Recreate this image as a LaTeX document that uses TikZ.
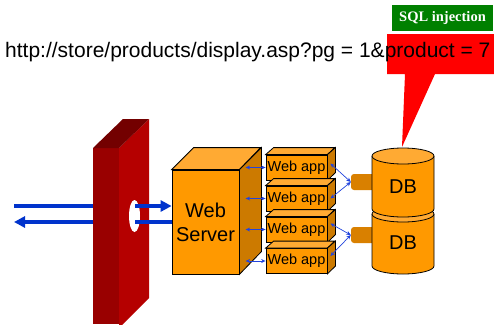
\documentclass[tikz,border=0pt]{standalone}
\usepackage{fontspec}
\setmainfont{Liberation Sans}
\newfontfamily\serifx{Liberation Serif}
\usetikzlibrary{arrows.meta,calc}
\definecolor{fwfront}{HTML}{990000}
\definecolor{fwside}{HTML}{B50000}
\definecolor{fwtop}{HTML}{730000}
\definecolor{orfront}{HTML}{FF9900}
\definecolor{ortop}{HTML}{FFAA33}
\definecolor{orside}{HTML}{CC7A00}
\definecolor{orstub}{HTML}{D98000}
\definecolor{arrblue}{HTML}{0033CC}
\definecolor{smallblue}{HTML}{2244DD}
\definecolor{sqlgreen}{HTML}{008000}
\definecolor{callred}{HTML}{FF0000}
\newcommand{\dbcyl}[3]{%
  \fill[orfront] ({#1-31},#2) -- ({#1-31},#3) arc[start angle=180,end angle=360,x radius=31pt,y radius=8pt] -- ({#1+31},#2) -- cycle;
  \draw[line width=0.8pt] ({#1-31},#2) -- ({#1-31},#3) arc[start angle=180,end angle=360,x radius=31pt,y radius=8pt] -- ({#1+31},#2);
  \filldraw[fill=ortop,line width=0.8pt] (#1,#2) ellipse[x radius=31pt,y radius=8pt];
}
\tikzset{
  boxfront/.style={draw=black,line width=0.8pt,fill=orfront,inner sep=0pt},
  topface/.style={draw=black,line width=0.8pt,fill=ortop},
  sideface/.style={draw=black,line width=0.8pt,fill=orside},
  bigarr/.style={draw=arrblue,line width=3.5pt},
  bighead/.style={bigarr,-{Triangle[length=11pt,width=11pt]}},
  smallarr/.style={draw=smallblue,line width=0.7pt,{Stealth[length=4.5pt,width=4pt]}-{Stealth[length=4.5pt,width=4pt]}},
  stub/.style={fill=orstub,rounded corners=3pt,inner sep=0pt,minimum width=27pt,minimum height=16pt},
  dblabel/.style={font=\fontsize{20}{24}\selectfont,inner sep=0pt}
}
\begin{document}
\begin{tikzpicture}[x=1pt,y=-1pt]
\useasboundingbox (0,0) rectangle (494,324);

% firewall
\fill[fwfront] (93,148) -- (119,148) -- (119,324) -- (93,324) -- cycle;
\fill[fwside] (119,148) -- (149,119) -- (149,298) -- (119,328) -- cycle;
\fill[fwtop] (93,148) -- (123,119) -- (149,119) -- (119,148) -- cycle;
\fill[white] (134.5,216) ellipse[x radius=5.5pt,y radius=16pt];

% web server
\node[boxfront,minimum width=67pt,minimum height=104pt,align=center,font=\fontsize{20}{24}\selectfont] (ws) at (205.5,222) {Web\\Server};
\filldraw[topface] (ws.north west) -- ++(22,-22) -- ++(67,0) -- (ws.north east) -- cycle;
\filldraw[sideface] (ws.north east) -- ++(22,-22) -- ++(0,104) -- (ws.south east) -- cycle;

% traffic arrows
\coordinate (outL) at (14,206);
\coordinate (inL) at (14,222);
\coordinate (fwU) at (93,206);
\coordinate (fwD) at (93,222);
\coordinate (hU) at (135,206);
\coordinate (hD) at (135,222);
\draw[bigarr] (outL) -- (fwU);
\draw[bighead] (fwD) -- (inL);
\draw[bighead] (hU) -- (ws.west |- hU);
\draw[bigarr] (hD) -- (ws.west |- hD);

% web apps
\foreach \i/\y in {1/167.5,2/198.5,3/229.5,4/261}{
  \node[boxfront,minimum width=61pt,minimum height=25pt,font=\fontsize{14.5}{16}\selectfont] (wa\i) at (296.5,\y) {Web app};
  \filldraw[topface] (wa\i.north west) -- ++(8,-7) -- ++(61,0) -- (wa\i.north east) -- cycle;
  \filldraw[sideface] (wa\i.north east) -- ++(8,-7) -- ++(0,25) -- (wa\i.south east) -- cycle;
  \draw[smallarr] ($(wa\i.west)+(-20,0)$) -- (wa\i.west);
}

% stubs
\node[stub] (st1) at (364.5,182) {};
\node[stub] (st2) at (364.5,235) {};

% databases
\dbcyl{403}{214}{266}
\dbcyl{403}{156}{209}
\node[dblabel] (db1) at (403,187) {DB};
\node[dblabel] (db2) at (403,243) {DB};

% web app to db connectors
\draw[smallarr] ($(wa1.east)+(3,-4)$) -- (st1.west);
\draw[smallarr] ($(wa2.east)+(3,0)$) -- (st1.west);
\draw[smallarr] ($(wa3.east)+(3,-6)$) -- (st2.west);
\draw[smallarr] ($(wa4.east)+(3,-5)$) -- (st2.west);

% callout
\fill[callred] (387,34) -- (494,34) -- (494,74) -- (435,74) -- (402,147) -- (405,74) -- (387,74) -- cycle;
\node[fill=sqlgreen,text=white,font=\serifx\bfseries\fontsize{14.5}{16}\selectfont,minimum width=101pt,minimum height=26pt,inner sep=0pt] (sql) at (442.5,18) {SQL injection};

% url
\node[anchor=base west,inner sep=0pt,font=\fontsize{21}{24}\selectfont] (url) at (5,57) {http://store/products/display.asp?pg = 1\&product = 7};
\end{tikzpicture}
\end{document}
